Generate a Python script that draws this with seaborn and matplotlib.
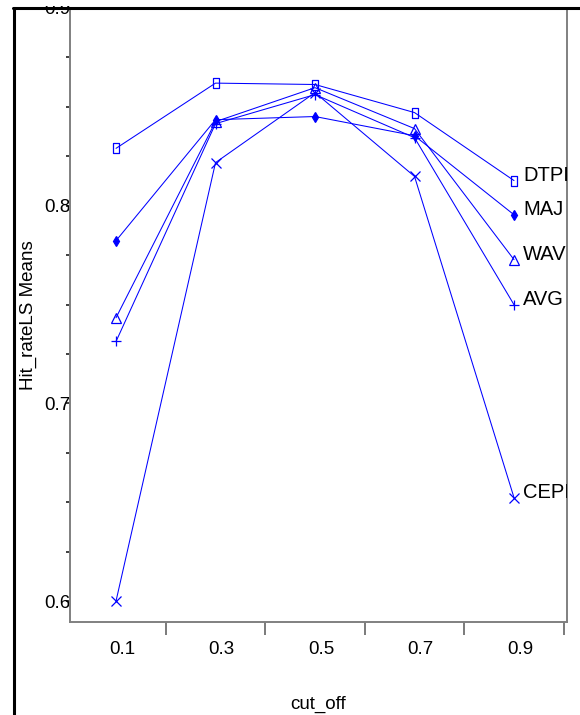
import pandas as pd
import matplotlib.pyplot as plt
import matplotlib as mpl
import matplotlib.transforms as mtransforms
import seaborn as sns

cut_off = [0.1, 0.3, 0.5, 0.7, 0.9]
dtpi = [0.829, 0.862, 0.8613, 0.8471, 0.8127]
maj = [0.7823, 0.8435, 0.8451, 0.8354, 0.7954]
wav = [0.7433, 0.8425, 0.8597, 0.839, 0.7727]
avg = [0.7313, 0.8415, 0.8562, 0.8344, 0.7499]
cepi = [0.6, 0.8218, 0.8572, 0.8148, 0.6523]
methods = ["DTPI", "MAJ", "WAV", "AVG", "CEPI"]

y_major = [0.6, 0.7, 0.8, 0.9]
x_bounds = [0.2, 0.4, 0.6, 0.8, 1.0]

sns.set_theme(style="white")
mpl.rcParams['font.family'] = ['Liberation Sans', 'DejaVu Sans']
mpl.rcParams['text.color'] = 'black'
mpl.rcParams['axes.labelcolor'] = 'black'
mpl.rcParams['xtick.labelcolor'] = 'black'
mpl.rcParams['ytick.labelcolor'] = 'black'

series = {"DTPI": dtpi, "MAJ": maj, "WAV": wav, "AVG": avg, "CEPI": cepi}
df = pd.concat([pd.DataFrame({"cut_off": cut_off, "value": v, "method": k})
                for k, v in series.items()], ignore_index=True)

rect = mpl.path.Path([(-0.62, -1), (0.62, -1), (0.62, 1), (-0.62, 1), (-0.62, -1)], closed=True)
marker_styles = {
    "DTPI": dict(marker=rect, markersize=7, mfc="none"),
    "MAJ": dict(marker="d", markersize=5.5, mfc="blue"),
    "WAV": dict(marker="^", markersize=7, mfc="none"),
    "AVG": dict(marker="+", markersize=7),
    "CEPI": dict(marker="x", markersize=6.5),
}

fig = plt.figure(figsize=(5.8, 7.15), dpi=100)
ax = fig.add_axes([70 / 580, 93 / 715, 497 / 580, 614 / 715])

for m in methods:
    sub = df[df["method"] == m]
    sns.lineplot(data=sub, x="cut_off", y="value", ax=ax, color="blue",
                 linewidth=0.75, mec="blue", mew=0.9, legend=False,
                 **marker_styles[m])
    last = sub.iloc[-1]
    off = mtransforms.offset_copy(ax.transData, fig=fig, x=6.5, y=3.6, units="points")
    ax.text(last["cut_off"], last["value"], m, transform=off, ha="left", va="center",
            fontsize=14.5, color="black", clip_on=True)

ax.set_xlim(0.0075, 1.0065)
ax.set_ylim(0.5894, 0.9)

# x: boundary ticks, labels at category centres
ax.set_xticks(x_bounds)
ax.set_xticklabels([])
ax.set_xticks(cut_off, minor=True)
ax.set_xticklabels([f"{c:.1f}" for c in cut_off], minor=True)
ax.tick_params(axis="x", which="major", direction="out", length=9, width=1.3,
               color="#707070", bottom=True)
ax.tick_params(axis="x", which="minor", length=0, pad=13.5, labelsize=13.5)
shift = mtransforms.ScaledTranslation(6 / 100, 0, fig.dpi_scale_trans)
for lab in ax.get_xticklabels(minor=True):
    lab.set_transform(lab.get_transform() + shift)

# y: labelled majors, unlabelled minors
ax.set_yticks(y_major)
ax.set_yticklabels([f"{v:.1f}" for v in y_major])
ax.set_yticks([0.625, 0.65, 0.675, 0.725, 0.75, 0.775, 0.825, 0.85, 0.875], minor=True)
ax.tick_params(axis="y", which="major", direction="out", length=3, width=1.3,
               color="#303030", pad=-3.5, labelsize=13.5, left=True)
ax.tick_params(axis="y", which="minor", direction="out", length=3, width=1.3,
               color="#303030", left=True)

for side in ["left", "bottom", "right", "top"]:
    ax.spines[side].set_color("#808080")
    ax.spines[side].set_linewidth(1.4)

ax.set_xlabel("cut_off", fontsize=13.5)
ax.xaxis.set_label_coords(0.5, -82 / 614, transform=ax.transAxes)
ax.set_ylabel("Hit_rateLS Means", fontsize=13.5)
ax.yaxis.set_label_coords(-42 / 497, 0.5, transform=ax.transAxes)
ax.xaxis.label.set_va("center")
ax.yaxis.label.set_va("center")

# outer frame of the original page, cropped
fig.patches.append(mpl.patches.Rectangle((0, 1 - 6 / 715), 1, 6 / 715, transform=fig.transFigure,
                                         facecolor="white", edgecolor="none", zorder=10))
fig.lines.append(mpl.lines.Line2D([13 / 580, 1], [1 - 7.5 / 715, 1 - 7.5 / 715],
                                  transform=fig.transFigure, color="black", lw=2.2, zorder=11))
fig.lines.append(mpl.lines.Line2D([14 / 580, 14 / 580], [0, 1 - 7.5 / 715],
                                  transform=fig.transFigure, color="black", lw=2.2, zorder=11))

fig.savefig("out.png", dpi=100)
